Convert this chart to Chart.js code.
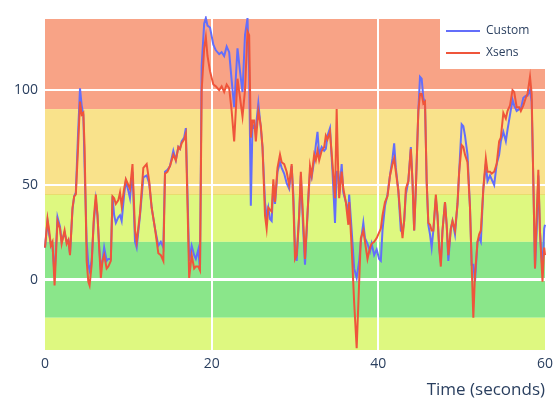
<!DOCTYPE html>
<html>
<head>
<meta charset="utf-8">
<script src="https://cdn.jsdelivr.net/npm/chart.js@4.4.1/dist/chart.umd.min.js"></script>
<style>
  html, body { margin: 0; padding: 0; background: #ffffff; }
  #wrap { width: 554px; height: 399px; }
</style>
</head>
<body>
<div id="wrap"><canvas id="chart" width="554" height="399"></canvas></div>
<script>
// Time stamps (seconds) shared by both sensors
const timeSec = [
  0, 0.3, 0.5, 0.7, 0.9, 1.15, 1.5, 1.8, 2.0, 2.35,
  2.6, 2.8, 3.0, 3.3, 3.5, 3.7, 3.95, 4.2, 4.4, 4.6,
  4.75, 5.0, 5.2, 5.35, 5.6, 5.85, 6.1, 6.3, 6.5, 6.7,
  6.9, 7.1, 7.4, 7.6, 7.9, 8.1, 8.3, 8.5, 8.8, 9.0,
  9.2, 9.5, 9.7, 10.0, 10.2, 10.5, 10.8, 11.0, 11.4, 11.8,
  12.2, 12.5, 12.8, 13.2, 13.6, 13.9, 14.2, 14.4, 14.7, 15.0,
  15.4, 15.7, 16.0, 16.2, 16.4, 16.7, 16.9, 17.1, 17.3, 17.6,
  17.9, 18.1, 18.4, 18.6, 18.8, 19.1, 19.3, 19.5, 19.8, 20.2,
  20.5, 20.9, 21.2, 21.5, 21.8, 22.1, 22.4, 22.7, 23.1, 23.4,
  23.7, 24.0, 24.3, 24.5, 24.7, 24.9, 25.1, 25.3, 25.6, 25.9,
  26.1, 26.4, 26.6, 26.8, 27.0, 27.2, 27.4, 27.6, 27.9, 28.2,
  28.4, 28.7, 29.0, 29.3, 29.6, 29.8, 30.0, 30.2, 30.5, 30.7,
  31.0, 31.2, 31.6, 31.8, 32.0, 32.3, 32.5, 32.7, 32.9, 33.2,
  33.5, 33.7, 33.9, 34.2, 34.5, 34.8, 35.0, 35.2, 35.3, 35.6,
  35.8, 36.1, 36.4, 36.5, 36.8, 37.1, 37.4, 37.7, 37.9, 38.2,
  38.4, 38.7, 39.0, 39.2, 39.5, 39.8, 40.1, 40.3, 40.5, 40.8,
  41.1, 41.4, 41.7, 41.9, 42.1, 42.4, 42.7, 42.9, 43.1, 43.3,
  43.6, 43.9, 44.1, 44.3, 44.5, 44.8, 45.0, 45.2, 45.4, 45.6,
  45.8, 46.0, 46.2, 46.4, 46.6, 46.9, 47.1, 47.3, 47.5, 47.7,
  48.0, 48.2, 48.4, 48.7, 48.9, 49.2, 49.5, 49.7, 50.0, 50.2,
  50.4, 50.7, 51.0, 51.2, 51.4, 51.6, 51.9, 52.1, 52.3, 52.6,
  52.9, 53.1, 53.4, 53.6, 53.9, 54.2, 54.5, 54.7, 55.0, 55.3,
  55.5, 55.8, 56.1, 56.3, 56.6, 56.9, 57.1, 57.4, 57.7, 57.9,
  58.2, 58.4, 58.6, 58.8, 59.0, 59.2, 59.4, 59.7, 59.9, 60.0
];

// Joint angle from the custom sensor (degrees)
const customDeg = [
  17, 31, 24, 19, 18, 2, 33, 28, 20, 25,
  20, 21, 14, 37, 44, 46, 75, 101, 92, 87,
  60, 20, 8, 5, 10, 30, 42, 34, 17, 6,
  10, 17, 10, 11, 11, 44, 34, 30, 33, 34,
  31, 45, 52, 47, 43, 57, 20, 17, 34, 54,
  55, 51, 38, 27, 18, 20, 17, 57, 58, 60,
  68, 63, 70, 69, 73, 75, 80, 45, 10, 18,
  13, 11, 16, 5, 113, 135, 138, 134, 133, 124,
  121, 119, 120, 118, 123, 120, 105, 91, 122, 110,
  99, 129, 138, 110, 39, 82, 80, 80, 93, 80,
  70, 41, 33, 38, 32, 31, 50, 40, 57, 62,
  59, 56, 51, 48, 60, 45, 17, 10, 34, 55,
  25, 8, 43, 57, 54, 63, 71, 78, 66, 70,
  68, 69, 76, 80, 57, 30, 57, 57, 45, 61,
  46, 41, 36, 45, 26, 6, 1, 10, 20, 30,
  22, 19, 15, 19, 13, 16, 11, 10, 26, 39,
  45, 55, 64, 72, 59, 47, 26, 25, 31, 45,
  52, 70, 52, 26, 48, 89, 107, 106, 96, 93,
  52, 29, 24, 17, 26, 43, 34, 17, 9, 26,
  41, 29, 10, 27, 31, 24, 40, 57, 82, 81,
  76, 66, 38, 8, 8, -1, 20, 22, 20, 48,
  61, 52, 55, 53, 50, 61, 66, 73, 78, 73,
  79, 87, 95, 92, 89, 90, 90, 96, 97, 97,
  100, 94, 52, 6, 25, 55, 25, 4, 27, 29
];

// Joint angle from the Xsens reference system (degrees)
const xsensDeg = [
  17, 32, 26, 18, 20, -3, 31, 27, 19, 26,
  19, 21, 13, 38, 44, 45, 68, 94, 87, 88,
  70, 10, -1, -3, 8, 32, 45, 34, 17, 1,
  10, 13, 6, 7, 10, 44, 43, 40, 42, 46,
  39, 48, 53, 50, 48, 61, 26, 20, 35, 59,
  61, 52, 38, 27, 14, 13, 10, 56, 57, 60,
  66, 63, 70, 69, 72, 74, 77, 40, 1, 13,
  6, 7, 7, 5, 100, 122, 128, 118, 110, 103,
  102, 100, 102, 99, 103, 101, 89, 73, 106, 96,
  86, 100, 131, 129, 75, 84, 84, 73, 89, 81,
  70, 34, 27, 38, 37, 36, 53, 41, 59, 66,
  62, 61, 57, 50, 61, 41, 11, 13, 34, 57,
  30, 11, 43, 60, 55, 66, 63, 68, 63, 68,
  70, 76, 74, 78, 61, 43, 90, 54, 43, 57,
  48, 41, 29, 41, 17, -12, -36, -1, 22, 26,
  20, 11, 17, 19, 20, 22, 25, 27, 34, 41,
  44, 55, 61, 64, 57, 47, 31, 22, 31, 48,
  52, 69, 52, 26, 48, 89, 98, 98, 93, 94,
  52, 30, 29, 26, 26, 45, 34, 17, 7, 26,
  41, 29, 13, 27, 31, 26, 40, 57, 71, 70,
  66, 62, 38, 8, -20, 3, 20, 24, 26, 48,
  64, 57, 57, 56, 57, 61, 73, 75, 88, 85,
  89, 92, 100, 99, 91, 91, 89, 92, 96, 98,
  107, 98, 52, 6, 34, 58, 25, -1, 17, 13
];

// Axis ticks
const xTicks = [0, 20, 40, 60];
const yTicks = [0, 50, 100];

// Shaded angle zones, listed top to bottom
const zoneEdges = [137.5, 90, 45, 20, -20, -37];
const zoneColors = ['#F8A386', '#F9E28B', '#DEF880', '#8AE68A', '#DEF880'];

const seriesNames = ['Custom', 'Xsens'];
const seriesColors = ['#636EFA', '#EF553B'];

const textColor = '#2A3F5F';
const fontFamily = '"Open Sans", "Noto Sans", sans-serif';

// Coloured horizontal zones behind the grid
const zonePlugin = {
  id: 'zones',
  beforeDraw(chart) {
    const { ctx, chartArea: a, scales: { y } } = chart;
    ctx.save();
    for (let i = 0; i < zoneColors.length; i++) {
      const top = Math.max(a.top, y.getPixelForValue(zoneEdges[i]));
      const bot = Math.min(a.bottom, y.getPixelForValue(zoneEdges[i + 1]));
      ctx.fillStyle = zoneColors[i];
      ctx.fillRect(a.left, top, a.right - a.left, bot - top);
    }
    // faint edge between the two yellow zones
    const yEdge = Math.round(y.getPixelForValue(zoneEdges[2])) + 0.5;
    ctx.strokeStyle = 'rgba(232, 200, 70, 0.55)';
    ctx.lineWidth = 1;
    ctx.beginPath();
    ctx.moveTo(a.left, yEdge);
    ctx.lineTo(a.right, yEdge);
    ctx.stroke();
    ctx.restore();
  }
};

// Boxed legend in the upper right corner
const legendPlugin = {
  id: 'boxLegend',
  afterDraw(chart) {
    const { ctx, chartArea: a } = chart;
    const boxX = 440, boxY = a.top, boxW = chart.width - 440, boxH = 50;
    ctx.save();
    ctx.fillStyle = '#ffffff';
    ctx.fillRect(boxX, boxY, boxW, boxH);
    ctx.font = '12px ' + fontFamily;
    ctx.textBaseline = 'middle';
    ctx.textAlign = 'left';
    seriesNames.forEach((name, i) => {
      const cy = boxY + 12 + i * 22;
      ctx.strokeStyle = seriesColors[i];
      ctx.lineWidth = 2;
      ctx.beginPath();
      ctx.moveTo(boxX + 6, cy);
      ctx.lineTo(boxX + 40, cy);
      ctx.stroke();
      ctx.fillStyle = textColor;
      ctx.fillText(name, boxX + 46, cy);
    });
    ctx.restore();
  }
};

const toPoints = vals => vals.map((v, i) => ({ x: timeSec[i], y: v }));

new Chart(document.getElementById('chart'), {
  type: 'line',
  data: {
    datasets: [
      {
        label: seriesNames[0],
        data: toPoints(customDeg),
        borderColor: seriesColors[0],
        backgroundColor: seriesColors[0],
        borderWidth: 2,
        pointRadius: 0,
        tension: 0,
        order: 1,
        clip: 3
      },
      {
        label: seriesNames[1],
        data: toPoints(xsensDeg),
        borderColor: seriesColors[1],
        backgroundColor: seriesColors[1],
        borderWidth: 2,
        pointRadius: 0,
        tension: 0,
        order: 0,
        clip: 3
      }
    ]
  },
  options: {
    responsive: false,
    animation: false,
    events: [],
    layout: { padding: { left: 0, right: 9, top: 19, bottom: 0 } },
    plugins: {
      legend: { display: false },
      tooltip: { enabled: false },
      title: { display: false }
    },
    scales: {
      x: {
        type: 'linear',
        min: 0,
        max: 60,
        afterBuildTicks: s => { s.ticks = xTicks.map(v => ({ value: v })); },
        afterFit: s => { s.height = 49; s.paddingLeft = 0; s.paddingRight = 0; },
        border: { display: false },
        grid: {
          drawTicks: false,
          lineWidth: 2,
          color: c => (c.tick && (c.tick.value === 0 || c.tick.value === 60)) ? 'rgba(0,0,0,0)' : '#ffffff'
        },
        ticks: {
          padding: 6,
          maxRotation: 0,
          color: textColor,
          font: { family: fontFamily, size: 14 }
        },
        title: {
          display: true,
          text: 'Time (seconds)',
          align: 'end',
          color: textColor,
          font: { family: fontFamily, size: 17, lineHeight: 1 },
          padding: { top: 0, bottom: 0 }
        }
      },
      y: {
        min: -37,
        max: 137.5,
        afterBuildTicks: s => { s.ticks = yTicks.map(v => ({ value: v })); },
        afterFit: s => { s.width = 45; s.paddingTop = 0; s.paddingBottom = 0; },
        border: { display: false },
        grid: {
          drawTicks: false,
          color: '#ffffff',
          lineWidth: c => (c.tick && c.tick.value === 0) ? 3 : 2
        },
        ticks: {
          padding: 7,
          color: textColor,
          font: { family: fontFamily, size: 14 }
        }
      }
    }
  },
  plugins: [zonePlugin, legendPlugin]
});
</script>
</body>
</html>
